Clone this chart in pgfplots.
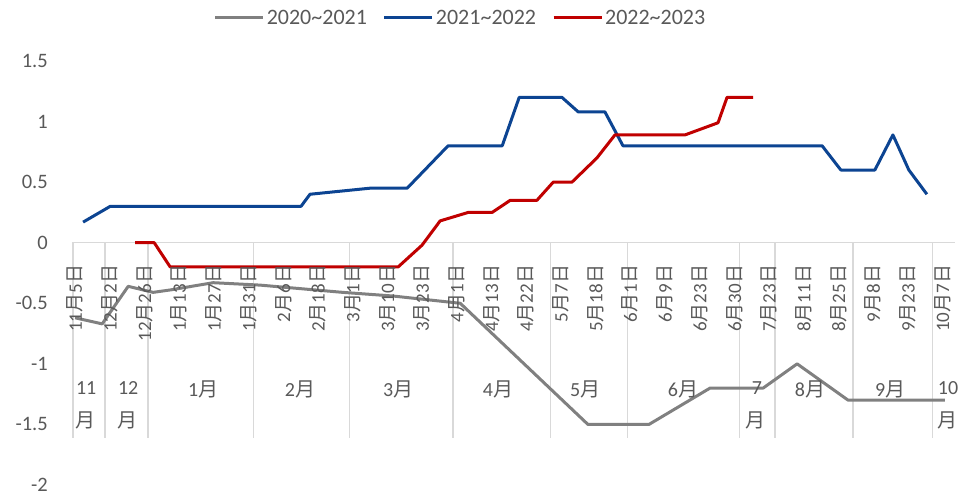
\documentclass[border=0pt]{standalone}
\usepackage{fontspec}
\setmainfont{Carlito}
\newfontfamily\cjk{Noto Sans CJK SC}
\usepackage{pgfplots}
\pgfplotsset{compat=1.18}
\definecolor{cgray}{RGB}{128,128,128}
\definecolor{cblue}{RGB}{12,68,146}
\definecolor{cred}{RGB}{192,0,0}
\definecolor{ctext}{RGB}{89,89,89}
\definecolor{cgrid}{RGB}{217,217,217}
\newcommand{\Y}{{\cjk 月}}
\newcommand{\D}{{\cjk 日}}
\newcommand{\dl}[2]{\node[yshift=-22pt,rotate=90,anchor=east,inner sep=0pt,text=ctext,font=\fontsize{19}{21}\selectfont] at (axis cs:#1,0) {#2};}
\newcommand{\ml}[3]{\node[anchor=center,inner sep=0pt,text=ctext,font=\fontsize{20}{22}\selectfont] at (axis cs:#1,#2) {#3};}
\begin{document}
\begin{tikzpicture}[x=1pt,y=1pt]
\begin{axis}[name=ax, at={(0,0)}, anchor=south west,
 width=883pt, height=424pt, scale only axis,
 xmin=-0.09, xmax=25.36, ymin=-2, ymax=1.5,
 axis line style={draw=none},
 xtick=\empty,
 ytick={-2,-1.5,-1,-0.5,0,0.5,1,1.5},
 yticklabels={-2,-1.5,-1,-0.5,0,0.5,1,1.5},
 major tick length=0pt,
 yticklabel style={font=\fontsize{20.5}{22}\selectfont, text=ctext, inner sep=0pt, xshift=-24pt},
 clip=false,
 legend columns=3,
 legend style={draw=none, fill=none, font=\fontsize{22}{24}\selectfont, text=ctext,
   at={(axis description cs:0.440,1)}, anchor=center, yshift=43pt,
   /tikz/every even column/.append style={column sep=14pt}},
 legend image code/.code={\draw[#1] (0pt,0pt) -- (48pt,0pt);},
 every axis plot/.append style={line width=3pt, line join=round},
]
\draw[cgrid, line width=1.2pt] (axis cs:-0.09,0) -- (axis cs:25.36,0);
\pgfplotsinvokeforeach{-0.06,0.86,2.10,5.13,7.90,10.89,13.69,15.91,19.16,20.17,22.42,24.70}{
  \draw[cgrid, line width=1.2pt] (axis cs:#1,0) -- (axis cs:#1,-1.61);
}
\addplot[cgray] coordinates {
(0,-0.62) (0.78,-0.67) (1.53,-0.36) (2.25,-0.41) (2.74,-0.39) (3.98,-0.33)
(5.33,-0.35) (7.72,-0.41) (9.16,-0.44) (11.10,-0.50) (14.78,-1.5) (16.54,-1.5)
(18.30,-1.2) (19.83,-1.2) (20.81,-1.0) (22.28,-1.3) (25.07,-1.3)};
\addplot[cblue] coordinates {
(0.23,0.17) (1.01,0.30) (6.51,0.30) (6.77,0.40) (8.50,0.45) (9.57,0.45)
(10.75,0.80) (12.31,0.80) (12.80,1.2) (14.03,1.2) (14.50,1.08) (15.27,1.08)
(15.79,0.80) (21.53,0.80) (22.07,0.60) (23.05,0.60) (23.57,0.89) (24.03,0.60) (24.55,0.40)};
\addplot[cred] coordinates {
(1.73,0) (2.28,0) (2.74,-0.2) (9.31,-0.2) (10.0,-0.02) (10.52,0.18) (11.33,0.25)
(12.02,0.25) (12.54,0.35) (13.31,0.35) (13.78,0.50) (14.32,0.50) (15.04,0.70)
(15.56,0.89) (17.58,0.89) (18.53,0.99) (18.79,1.2) (19.54,1.2)};
\legend{2020\textasciitilde2021,2021\textasciitilde2022,2022\textasciitilde2023}
\dl{0}{11\Y5\D}
\dl{1}{12\Y2\D}
\dl{2}{12\Y26\D}
\dl{3}{1\Y13\D}
\dl{4}{1\Y27\D}
\dl{5}{1\Y31\D}
\dl{6}{2\Y6\D}
\dl{7}{2\Y18\D}
\dl{8}{3\Y1\D}
\dl{9}{3\Y10\D}
\dl{10}{3\Y23\D}
\dl{11}{4\Y1\D}
\dl{12}{4\Y13\D}
\dl{13}{4\Y22\D}
\dl{14}{5\Y7\D}
\dl{15}{5\Y18\D}
\dl{16}{6\Y1\D}
\dl{17}{6\Y9\D}
\dl{18}{6\Y23\D}
\dl{19}{6\Y30\D}
\dl{20}{7\Y23\D}
\dl{21}{8\Y11\D}
\dl{22}{8\Y25\D}
\dl{23}{9\Y8\D}
\dl{24}{9\Y23\D}
\dl{25}{10\Y7\D}
\ml{0.32}{-1.20}{11}
\ml{0.29}{-1.47}{\Y}
\ml{1.53}{-1.20}{12}
\ml{1.50}{-1.47}{\Y}
\ml{3.69}{-1.21}{1\Y}
\ml{6.48}{-1.21}{2\Y}
\ml{9.31}{-1.21}{3\Y}
\ml{12.19}{-1.21}{4\Y}
\ml{14.70}{-1.21}{5\Y}
\ml{17.52}{-1.21}{6\Y}
\ml{19.65}{-1.20}{7}
\ml{19.60}{-1.47}{\Y}
\ml{21.18}{-1.21}{8\Y}
\ml{23.49}{-1.21}{9\Y}
\ml{25.16}{-1.20}{10}
\ml{25.13}{-1.47}{\Y}
\end{axis}
\pgfresetboundingbox
\path (-72pt,-15pt) rectangle (887pt,485pt);
\end{tikzpicture}
\end{document}
